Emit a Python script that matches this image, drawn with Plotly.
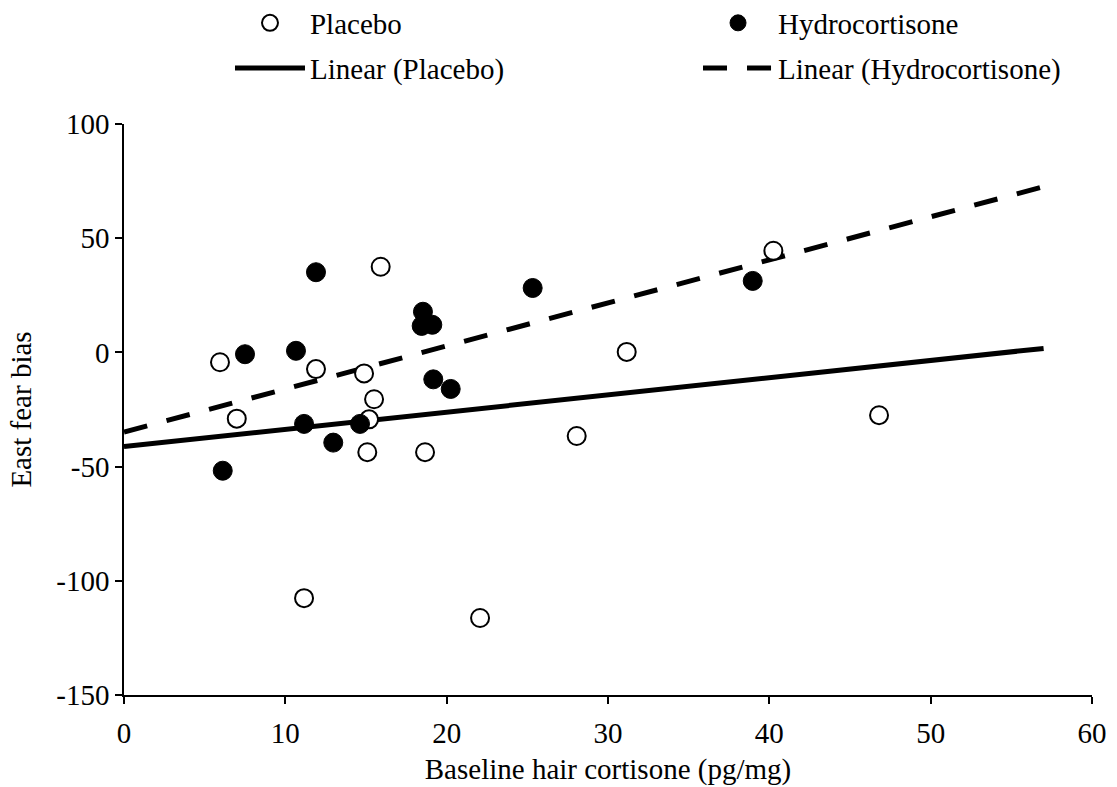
import numpy as np
import plotly.graph_objects as go

# ---- data ----
placebo_x = [5.95, 6.99, 11.90, 11.16, 14.88, 15.50, 15.19, 15.08, 15.91, 18.66, 22.07, 28.06, 31.16, 40.25, 46.80]
placebo_y = [-4.3, -29.0, -7.3, -107.6, -9.2, -20.5, -29.3, -43.7, 37.5, -43.7, -116.3, -36.6, 0.2, 44.5, -27.5]

hydro_x = [6.12, 7.50, 10.66, 11.16, 11.90, 12.97, 14.63, 18.53, 18.45, 19.11, 19.17, 20.25, 25.33, 38.97]
hydro_y = [-51.8, -0.8, 0.7, -31.3, 35.1, -39.5, -31.3, 17.8, 11.6, 12.1, -11.8, -16.0, 28.2, 31.3]

trend_x = [0, 57]

x_ticks = [0, 10, 20, 30, 40, 50, 60]
y_ticks = [100, 50, 0, -50, -100, -150]

# linear trendlines (least squares, like the spreadsheet's "Linear" trendline)
p_fit = np.polyfit(placebo_x, placebo_y, 1)
h_fit = np.polyfit(hydro_x, hydro_y, 1)
p_trend_y = list(np.polyval(p_fit, trend_x))
h_trend_y = list(np.polyval(h_fit, trend_x))

FONT = "Liberation Serif, Times New Roman, serif"
FS = 29

fig = go.Figure()

fig.add_trace(go.Scatter(
    x=trend_x, y=p_trend_y, mode="lines", name="Linear (Placebo)",
    line=dict(color="black", width=5), legend="legend3", hoverinfo="skip"))
fig.add_trace(go.Scatter(
    x=trend_x, y=h_trend_y, mode="lines", name="Linear (Hydrocortisone)",
    line=dict(color="black", width=5, dash="24px,20px"), legend="legend4", hoverinfo="skip"))

fig.add_trace(go.Scatter(
    x=placebo_x, y=placebo_y, mode="markers", name="Placebo",
    marker=dict(symbol="circle", size=18, color="white", line=dict(color="black", width=2)),
    legend="legend"))
fig.add_trace(go.Scatter(
    x=hydro_x, y=hydro_y, mode="markers", name="Hydrocortisone",
    marker=dict(symbol="circle", size=19, color="black", line=dict(color="black", width=1)),
    legend="legend2"))

legend_common = dict(
    orientation="h", xanchor="left", yanchor="middle",
    font=dict(family=FONT, size=FS, color="black"),
    bgcolor="rgba(0,0,0,0)", borderwidth=0, itemwidth=70,
)

COL1, COL2 = 0.1095, 0.593
ROW1, ROW2 = 1.1769, 1.098

fig.update_layout(
    width=1117, height=787,
    margin=dict(l=124, r=25, t=124, b=92, pad=0, autoexpand=False),
    paper_bgcolor="white", plot_bgcolor="white",
    font=dict(family=FONT, size=FS, color="black"),
    showlegend=True,
    legend=dict(x=COL1, y=ROW1, **legend_common),
    legend2=dict(x=COL2, y=ROW1, **legend_common),
    legend3=dict(x=COL1, y=ROW2, **legend_common),
    legend4=dict(x=COL2, y=ROW2, **legend_common),
    xaxis=dict(
        range=[0, 60], tickvals=x_ticks, ticktext=[str(v) for v in x_ticks],
        showgrid=False, zeroline=False, showline=True, linecolor="black", linewidth=1.5,
        ticks="outside", ticklen=7, tickwidth=1.5, tickcolor="black", ticklabelstandoff=4,
        tickfont=dict(family=FONT, size=FS, color="black"),
        title=dict(text="Baseline hair cortisone (pg/mg)", font=dict(family=FONT, size=FS, color="black"), standoff=11),
        fixedrange=True, automargin=False,
    ),
    yaxis=dict(
        range=[-150, 100], tickvals=y_ticks, ticktext=[str(v) for v in y_ticks],
        showgrid=False, zeroline=False, showline=True, linecolor="black", linewidth=1.5,
        ticks="outside", ticklen=7, tickwidth=1.5, tickcolor="black",
        tickfont=dict(family=FONT, size=FS, color="black"),
        title=dict(text="East fear bias", font=dict(family=FONT, size=FS, color="black"), standoff=16),
        fixedrange=True, automargin=False,
    ),
)

fig.write_html("out.html")
